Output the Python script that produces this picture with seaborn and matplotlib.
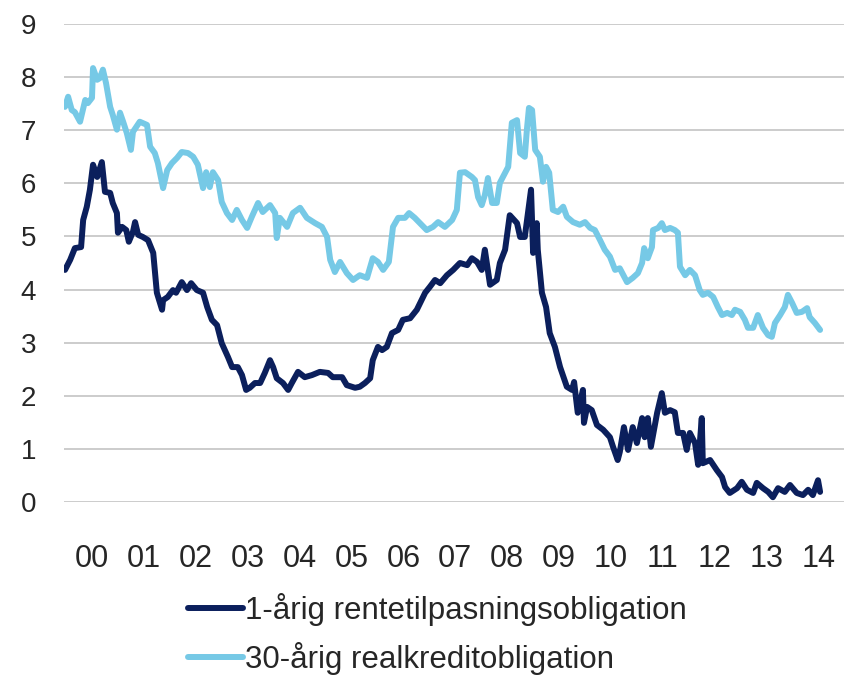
import pandas as pd
import numpy as np
import matplotlib
matplotlib.use("Agg")
import matplotlib.pyplot as plt
import seaborn as sns

# 1-årig rentetilpasningsobligation (weekly)
rt_year = [1999.98, 2000.08, 2000.17, 2000.29, 2000.33, 2000.40, 2000.46, 2000.52, 2000.60, 2000.69,
           2000.75, 2000.85, 2000.90, 2000.98, 2001.00, 2001.08, 2001.16, 2001.21, 2001.29, 2001.33,
           2001.39, 2001.48, 2001.58, 2001.68, 2001.75, 2001.85, 2001.87, 2001.96, 2002.06, 2002.12,
           2002.23, 2002.33, 2002.41, 2002.52, 2002.64, 2002.72, 2002.81, 2002.91, 2003.00, 2003.12,
           2003.20, 2003.31, 2003.39, 2003.47, 2003.54, 2003.64, 2003.74, 2003.83, 2003.93, 2003.99,
           2004.06, 2004.18, 2004.28, 2004.35, 2004.47, 2004.60, 2004.74, 2004.89, 2005.05, 2005.14,
           2005.32, 2005.41, 2005.57, 2005.66, 2005.76, 2005.86, 2005.91, 2006.01, 2006.09, 2006.18,
           2006.28, 2006.40, 2006.49, 2006.63, 2006.76, 2006.92, 2007.01, 2007.11, 2007.21, 2007.34,
           2007.46, 2007.59, 2007.73, 2007.82, 2007.92, 2008.01, 2008.07, 2008.17, 2008.30, 2008.36,
           2008.46, 2008.55, 2008.69, 2008.75, 2008.84, 2008.90, 2008.96, 2009.00, 2009.07, 2009.09,
           2009.17, 2009.25, 2009.32, 2009.42, 2009.52, 2009.65, 2009.75, 2009.79, 2009.86, 2009.96,
           2009.98, 2010.04, 2010.13, 2010.23, 2010.35, 2010.48, 2010.54, 2010.63, 2010.67, 2010.75,
           2010.83, 2010.92, 2011.00, 2011.10, 2011.15, 2011.21, 2011.27, 2011.39, 2011.48, 2011.54,
           2011.64, 2011.73, 2011.79, 2011.89, 2011.96, 2012.02, 2012.12, 2012.18, 2012.25, 2012.27,
           2012.41, 2012.54, 2012.64, 2012.70, 2012.79, 2012.93, 2013.02, 2013.12, 2013.24, 2013.31,
           2013.43, 2013.53, 2013.62, 2013.72, 2013.85, 2013.95, 2014.08, 2014.20, 2014.30, 2014.39,
           2014.49, 2014.53]
rt_rate = [4.37, 4.56, 4.78, 4.80, 5.31, 5.56, 5.88, 6.35, 6.12, 6.40,
           5.84, 5.82, 5.63, 5.44, 5.07, 5.18, 5.12, 4.90, 5.09, 5.27,
           5.03, 4.99, 4.93, 4.69, 3.94, 3.62, 3.80, 3.86, 3.99, 3.94,
           4.14, 3.99, 4.12, 3.99, 3.94, 3.67, 3.43, 3.33, 2.99, 2.73,
           2.54, 2.54, 2.39, 2.11, 2.15, 2.24, 2.24, 2.43, 2.67, 2.54,
           2.33, 2.24, 2.11, 2.24, 2.45, 2.35, 2.39, 2.45, 2.43, 2.35,
           2.35, 2.20, 2.15, 2.17, 2.24, 2.33, 2.67, 2.92, 2.86, 2.92,
           3.18, 3.24, 3.43, 3.46, 3.62, 3.94, 4.05, 4.18, 4.12, 4.27,
           4.37, 4.50, 4.46, 4.59, 4.52, 4.37, 4.75, 4.09, 4.18, 4.50,
           4.75, 5.40, 5.25, 4.99, 4.99, 5.44, 5.88, 4.69, 5.25, 4.75,
           3.94, 3.67, 3.18, 2.92, 2.54, 2.17, 2.11, 2.26, 1.68, 2.11,
           1.49, 1.79, 1.73, 1.45, 1.36, 1.22, 1.04, 0.79, 0.94, 1.41,
           0.98, 1.41, 1.11, 1.58, 1.22, 1.58, 1.04, 1.68, 2.05, 1.68,
           1.73, 1.69, 1.30, 1.30, 0.98, 1.30, 1.11, 0.70, 1.58, 0.73,
           0.79, 0.60, 0.47, 0.28, 0.17, 0.26, 0.38, 0.23, 0.17, 0.36,
           0.26, 0.19, 0.09, 0.26, 0.19, 0.32, 0.17, 0.13, 0.23, 0.13,
           0.41, 0.19]

# 30-årig realkreditobligation
rk_year = [1999.98, 2000.04, 2000.11, 2000.17, 2000.27, 2000.37, 2000.42, 2000.50, 2000.52, 2000.60,
           2000.65, 2000.71, 2000.77, 2000.85, 2000.90, 2000.98, 2001.04, 2001.10, 2001.17, 2001.25,
           2001.29, 2001.42, 2001.56, 2001.62, 2001.71, 2001.77, 2001.87, 2001.95, 2002.04, 2002.14,
           2002.23, 2002.35, 2002.45, 2002.54, 2002.64, 2002.70, 2002.77, 2002.83, 2002.93, 2003.00,
           2003.10, 2003.20, 2003.29, 2003.39, 2003.49, 2003.58, 2003.70, 2003.79, 2003.93, 2004.03,
           2004.06, 2004.12, 2004.26, 2004.37, 2004.51, 2004.64, 2004.80, 2004.93, 2005.03, 2005.09,
           2005.18, 2005.28, 2005.41, 2005.53, 2005.66, 2005.80, 2005.91, 2006.01, 2006.11, 2006.22,
           2006.30, 2006.40, 2006.53, 2006.61, 2006.72, 2006.82, 2006.95, 2007.07, 2007.17, 2007.30,
           2007.44, 2007.53, 2007.59, 2007.69, 2007.82, 2007.88, 2007.94, 2008.01, 2008.07, 2008.13,
           2008.21, 2008.30, 2008.36, 2008.46, 2008.52, 2008.59, 2008.69, 2008.75, 2008.84, 2008.88,
           2008.92, 2008.98, 2009.04, 2009.13, 2009.19, 2009.25, 2009.31, 2009.38, 2009.48, 2009.58,
           2009.65, 2009.77, 2009.90, 2010.00, 2010.10, 2010.19, 2010.29, 2010.38, 2010.48, 2010.58,
           2010.67, 2010.81, 2010.92, 2011.02, 2011.10, 2011.14, 2011.21, 2011.29, 2011.31, 2011.41,
           2011.48, 2011.54, 2011.64, 2011.73, 2011.79, 2011.83, 2011.93, 2012.02, 2012.12, 2012.21,
           2012.27, 2012.37, 2012.47, 2012.56, 2012.64, 2012.74, 2012.83, 2012.89, 2012.99, 2013.08,
           2013.14, 2013.24, 2013.33, 2013.43, 2013.53, 2013.60, 2013.66, 2013.76, 2013.85, 2013.91,
           2013.99, 2014.08, 2014.18, 2014.28, 2014.33, 2014.43, 2014.53]
rk_rate = [7.44, 7.63, 7.38, 7.34, 7.16, 7.57, 7.51, 7.61, 8.17, 7.95,
           7.98, 8.14, 7.89, 7.44, 7.29, 7.01, 7.33, 7.16, 6.95, 6.63,
           6.97, 7.16, 7.10, 6.69, 6.57, 6.38, 5.91, 6.25, 6.38, 6.48,
           6.59, 6.57, 6.50, 6.35, 5.91, 6.21, 5.93, 6.21, 6.06, 5.65,
           5.44, 5.31, 5.50, 5.31, 5.16, 5.37, 5.63, 5.46, 5.59, 5.44,
           4.97, 5.35, 5.18, 5.44, 5.54, 5.35, 5.25, 5.18, 4.99, 4.56,
           4.33, 4.52, 4.31, 4.18, 4.27, 4.22, 4.59, 4.52, 4.37, 4.52,
           5.18, 5.35, 5.35, 5.44, 5.35, 5.25, 5.12, 5.18, 5.27, 5.18,
           5.31, 5.50, 6.20, 6.21, 6.12, 6.06, 5.74, 5.59, 5.78, 6.10,
           5.63, 5.63, 6.01, 6.20, 6.31, 7.14, 7.19, 6.57, 6.50, 7.01,
           7.42, 7.38, 6.63, 6.50, 6.03, 6.31, 6.20, 5.50, 5.46, 5.56,
           5.37, 5.27, 5.22, 5.27, 5.16, 5.12, 4.93, 4.75, 4.62, 4.37,
           4.40, 4.14, 4.22, 4.31, 4.50, 4.78, 4.59, 4.80, 5.12, 5.16,
           5.25, 5.12, 5.16, 5.12, 5.07, 4.43, 4.27, 4.37, 4.27, 3.99,
           3.90, 3.94, 3.86, 3.67, 3.52, 3.56, 3.52, 3.62, 3.58, 3.43,
           3.28, 3.28, 3.52, 3.28, 3.14, 3.11, 3.37, 3.52, 3.67, 3.90,
           3.75, 3.56, 3.58, 3.65, 3.48, 3.37, 3.24]

series_names = ["1-årig rentetilpasningsobligation", "30-årig realkreditobligation"]
tick_years = list(range(2000, 2015))
tick_labels = ["00", "01", "02", "03", "04", "05", "06", "07",
               "08", "09", "10", "11", "12", "13", "14"]
y_ticks = list(range(0, 10))

df = pd.concat([
    pd.DataFrame({"year": rt_year, "rate": rt_rate, "serie": series_names[0]}),
    pd.DataFrame({"year": rk_year, "rate": rk_rate, "serie": series_names[1]}),
], ignore_index=True)

sns.set_style("white")
plt.rcParams["font.family"] = ["Liberation Sans", "DejaVu Sans"]

fig = plt.figure(figsize=(8.45, 6.78), dpi=100)
ax = fig.add_axes([0.0757, 0.2596, 0.9243, 0.705])

palette = {series_names[0]: "#0b1f5c", series_names[1]: "#76c9e6"}
sns.lineplot(data=df, x="year", y="rate", hue="serie", hue_order=series_names,
             palette=palette, estimator=None, sort=False, linewidth=4.3,
             solid_joinstyle="round", ax=ax)

ax.set_xlim(1999.96, 2015.01)
ax.set_ylim(0, 9)
ax.set_xticks([y + 0.5 for y in tick_years])
ax.set_xticklabels(tick_labels)
ax.set_yticks(y_ticks)
ax.yaxis.grid(True, color="#c8c8c8", linewidth=1.3)
ax.xaxis.grid(False)
ax.set_axisbelow(True)
for s in ax.spines.values():
    s.set_visible(False)
ax.tick_params(axis="y", length=0, pad=20, labelsize=20)
ax.tick_params(axis="x", length=0, pad=30, labelsize=22)
ax.set_xlabel("")
ax.set_ylabel("")

handles, labels = ax.get_legend_handles_labels()
ax.get_legend().remove()
fig.legend(handles, labels, loc="upper left", bbox_to_anchor=(188 / 845, 1 - 593 / 678),
           frameon=False, fontsize=22.5, handlelength=1.75, handletextpad=0.08,
           borderpad=0, borderaxespad=0, labelspacing=0.5)

fig.savefig("out.png", dpi=100)
